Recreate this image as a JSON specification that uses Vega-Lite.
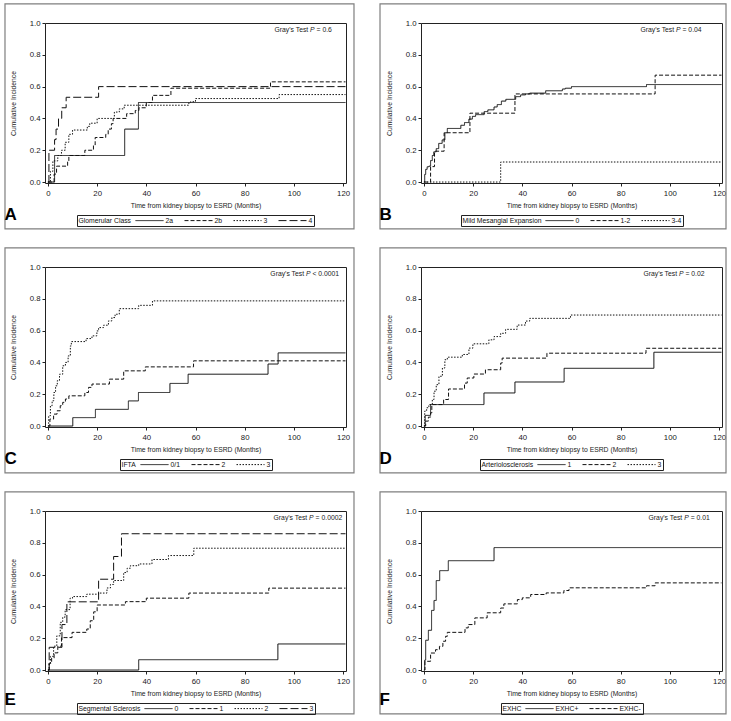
{
"$schema": "https://vega.github.io/schema/vega-lite/v6.json",
"padding": {"left": 3, "top": 2, "right": 2, "bottom": 2},
"datasets": {
"A": [
{"group":"2a","t":0,"v":0},{"group":"2a","t":2.7,"v":0.167},{"group":"2a","t":31.2,"v":0.333},{"group":"2a","t":36.8,"v":0.5},{"group":"2a","t":121,"v":0.5},
{"group":"2b","t":0,"v":0},{"group":"2b","t":2.5,"v":0.05},{"group":"2b","t":3.5,"v":0.1},{"group":"2b","t":8,"v":0.133},{"group":"2b","t":8.5,"v":0.167},{"group":"2b","t":15,"v":0.2},{"group":"2b","t":18.5,"v":0.233},{"group":"2b","t":19.2,"v":0.28},{"group":"2b","t":23.5,"v":0.3},{"group":"2b","t":24.5,"v":0.333},{"group":"2b","t":25.8,"v":0.367},{"group":"2b","t":26.5,"v":0.4},{"group":"2b","t":32,"v":0.43},{"group":"2b","t":35.5,"v":0.45},{"group":"2b","t":37,"v":0.467},{"group":"2b","t":40,"v":0.5},{"group":"2b","t":42.5,"v":0.545},{"group":"2b","t":50,"v":0.59},{"group":"2b","t":90.5,"v":0.63},{"group":"2b","t":121,"v":0.63},
{"group":"3","t":0,"v":0},{"group":"3","t":1,"v":0.067},{"group":"3","t":2,"v":0.133},{"group":"3","t":4,"v":0.167},{"group":"3","t":5.5,"v":0.2},{"group":"3","t":7,"v":0.25},{"group":"3","t":8.5,"v":0.3},{"group":"3","t":10,"v":0.327},{"group":"3","t":16,"v":0.35},{"group":"3","t":17,"v":0.37},{"group":"3","t":20,"v":0.4},{"group":"3","t":27,"v":0.44},{"group":"3","t":29,"v":0.46},{"group":"3","t":31,"v":0.483},{"group":"3","t":57.3,"v":0.5},{"group":"3","t":58,"v":0.505},{"group":"3","t":60,"v":0.525},{"group":"3","t":94,"v":0.55},{"group":"3","t":121,"v":0.55},
{"group":"4","t":0,"v":0},{"group":"4","t":0.4,"v":0.2},{"group":"4","t":2.7,"v":0.267},{"group":"4","t":3.3,"v":0.333},{"group":"4","t":4.3,"v":0.4},{"group":"4","t":5.6,"v":0.467},{"group":"4","t":7.4,"v":0.533},{"group":"4","t":20.6,"v":0.6},{"group":"4","t":121,"v":0.6}
],
"B": [
{"group":"0","t":0,"v":0},{"group":"0","t":0.3,"v":0.048},{"group":"0","t":0.7,"v":0.08},{"group":"0","t":1.3,"v":0.096},{"group":"0","t":2,"v":0.1},{"group":"0","t":2.7,"v":0.135},{"group":"0","t":3.4,"v":0.167},{"group":"0","t":4,"v":0.19},{"group":"0","t":5,"v":0.21},{"group":"0","t":6,"v":0.243},{"group":"0","t":7.4,"v":0.265},{"group":"0","t":8.5,"v":0.31},{"group":"0","t":9.5,"v":0.337},{"group":"0","t":15,"v":0.357},{"group":"0","t":16.5,"v":0.374},{"group":"0","t":18.3,"v":0.396},{"group":"0","t":19.7,"v":0.413},{"group":"0","t":21,"v":0.424},{"group":"0","t":24.5,"v":0.443},{"group":"0","t":26,"v":0.454},{"group":"0","t":28.5,"v":0.472},{"group":"0","t":29.8,"v":0.487},{"group":"0","t":31.5,"v":0.509},{"group":"0","t":33.3,"v":0.52},{"group":"0","t":37.3,"v":0.537},{"group":"0","t":39.3,"v":0.548},{"group":"0","t":41.3,"v":0.554},{"group":"0","t":43,"v":0.559},{"group":"0","t":49.5,"v":0.574},{"group":"0","t":56.3,"v":0.585},{"group":"0","t":57.5,"v":0.59},{"group":"0","t":60,"v":0.6},{"group":"0","t":90.5,"v":0.613},{"group":"0","t":121,"v":0.613},
{"group":"1-2","t":0,"v":0},{"group":"1-2","t":2.7,"v":0.097},{"group":"1-2","t":4.3,"v":0.194},{"group":"1-2","t":8.2,"v":0.31},{"group":"1-2","t":18.7,"v":0.433},{"group":"1-2","t":37,"v":0.554},{"group":"1-2","t":94,"v":0.672},{"group":"1-2","t":121,"v":0.672},
{"group":"3-4","t":0,"v":0},{"group":"3-4","t":31.2,"v":0.126},{"group":"3-4","t":121,"v":0.126}
],
"C": [
{"group":"0/1","t":0,"v":0},{"group":"0/1","t":10.1,"v":0.053},{"group":"0/1","t":19.3,"v":0.105},{"group":"0/1","t":32.7,"v":0.158},{"group":"0/1","t":36.8,"v":0.211},{"group":"0/1","t":49.6,"v":0.268},{"group":"0/1","t":57,"v":0.326},{"group":"0/1","t":89.5,"v":0.39},{"group":"0/1","t":93.6,"v":0.46},{"group":"0/1","t":121,"v":0.46},
{"group":"2","t":0,"v":0},{"group":"2","t":0.8,"v":0.044},{"group":"2","t":2.3,"v":0.075},{"group":"2","t":3.7,"v":0.096},{"group":"2","t":5,"v":0.128},{"group":"2","t":6,"v":0.149},{"group":"2","t":7.1,"v":0.17},{"group":"2","t":8.5,"v":0.19},{"group":"2","t":15,"v":0.211},{"group":"2","t":16.5,"v":0.243},{"group":"2","t":17.9,"v":0.264},{"group":"2","t":25,"v":0.295},{"group":"2","t":30.8,"v":0.347},{"group":"2","t":39.6,"v":0.372},{"group":"2","t":59.2,"v":0.41},{"group":"2","t":121,"v":0.41},
{"group":"3","t":0,"v":0},{"group":"3","t":0.3,"v":0.065},{"group":"3","t":1,"v":0.128},{"group":"3","t":1.7,"v":0.159},{"group":"3","t":2.4,"v":0.211},{"group":"3","t":3.1,"v":0.253},{"group":"3","t":3.8,"v":0.285},{"group":"3","t":4.7,"v":0.326},{"group":"3","t":6,"v":0.379},{"group":"3","t":7.1,"v":0.4},{"group":"3","t":8.2,"v":0.441},{"group":"3","t":9.1,"v":0.504},{"group":"3","t":9.5,"v":0.531},{"group":"3","t":15.5,"v":0.55},{"group":"3","t":17.9,"v":0.567},{"group":"3","t":19.9,"v":0.598},{"group":"3","t":20.6,"v":0.619},{"group":"3","t":22.6,"v":0.634},{"group":"3","t":24.6,"v":0.661},{"group":"3","t":26,"v":0.682},{"group":"3","t":27.3,"v":0.703},{"group":"3","t":29,"v":0.738},{"group":"3","t":36.9,"v":0.759},{"group":"3","t":42.5,"v":0.787},{"group":"3","t":121,"v":0.787}
],
"D": [
{"group":"1","t":0,"v":0},{"group":"1","t":0.5,"v":0.067},{"group":"1","t":2.7,"v":0.135},{"group":"1","t":24.4,"v":0.208},{"group":"1","t":37,"v":0.277},{"group":"1","t":57,"v":0.363},{"group":"1","t":93.5,"v":0.464},{"group":"1","t":121,"v":0.464},
{"group":"2","t":0,"v":0},{"group":"2","t":0.7,"v":0.031},{"group":"2","t":1.8,"v":0.056},{"group":"2","t":2.7,"v":0.083},{"group":"2","t":3.2,"v":0.135},{"group":"2","t":8,"v":0.167},{"group":"2","t":10,"v":0.233},{"group":"2","t":16.5,"v":0.27},{"group":"2","t":17.6,"v":0.302},{"group":"2","t":20.3,"v":0.327},{"group":"2","t":25,"v":0.354},{"group":"2","t":31.2,"v":0.396},{"group":"2","t":31.8,"v":0.427},{"group":"2","t":50,"v":0.458},{"group":"2","t":90.3,"v":0.489},{"group":"2","t":121,"v":0.489},
{"group":"3","t":0,"v":0},{"group":"3","t":0.3,"v":0.094},{"group":"3","t":1.1,"v":0.115},{"group":"3","t":2,"v":0.135},{"group":"3","t":3.4,"v":0.167},{"group":"3","t":4.1,"v":0.219},{"group":"3","t":5,"v":0.26},{"group":"3","t":6.1,"v":0.313},{"group":"3","t":7.5,"v":0.365},{"group":"3","t":8.5,"v":0.417},{"group":"3","t":9.5,"v":0.433},{"group":"3","t":15.6,"v":0.45},{"group":"3","t":18.3,"v":0.49},{"group":"3","t":19.9,"v":0.517},{"group":"3","t":26.4,"v":0.542},{"group":"3","t":28.5,"v":0.5625},{"group":"3","t":31.2,"v":0.583},{"group":"3","t":33.2,"v":0.608},{"group":"3","t":37.9,"v":0.635},{"group":"3","t":41.3,"v":0.66},{"group":"3","t":43,"v":0.677},{"group":"3","t":59.6,"v":0.698},{"group":"3","t":121,"v":0.698}
],
"E": [
{"group":"0","t":0,"v":0},{"group":"0","t":36.9,"v":0.065},{"group":"0","t":93.5,"v":0.164},{"group":"0","t":121,"v":0.164},
{"group":"1","t":0,"v":0},{"group":"1","t":0.5,"v":0.043},{"group":"1","t":1.5,"v":0.075},{"group":"1","t":2.5,"v":0.108},{"group":"1","t":4,"v":0.15},{"group":"1","t":5.5,"v":0.204},{"group":"1","t":9.8,"v":0.237},{"group":"1","t":15.8,"v":0.258},{"group":"1","t":17.2,"v":0.31},{"group":"1","t":18.6,"v":0.366},{"group":"1","t":20,"v":0.409},{"group":"1","t":31.5,"v":0.43},{"group":"1","t":40,"v":0.452},{"group":"1","t":57.3,"v":0.484},{"group":"1","t":89.8,"v":0.515},{"group":"1","t":121,"v":0.515},
{"group":"2","t":0,"v":0},{"group":"2","t":0.5,"v":0.043},{"group":"2","t":1,"v":0.086},{"group":"2","t":2.3,"v":0.15},{"group":"2","t":3.6,"v":0.215},{"group":"2","t":5,"v":0.3},{"group":"2","t":6,"v":0.333},{"group":"2","t":7,"v":0.38},{"group":"2","t":9,"v":0.452},{"group":"2","t":10,"v":0.462},{"group":"2","t":15.8,"v":0.477},{"group":"2","t":20.6,"v":0.484},{"group":"2","t":24,"v":0.516},{"group":"2","t":25.4,"v":0.538},{"group":"2","t":26.7,"v":0.563},{"group":"2","t":30.8,"v":0.613},{"group":"2","t":32.2,"v":0.64},{"group":"2","t":33.5,"v":0.656},{"group":"2","t":36.9,"v":0.667},{"group":"2","t":42.3,"v":0.695},{"group":"2","t":49,"v":0.72},{"group":"2","t":59.3,"v":0.766},{"group":"2","t":121,"v":0.766},
{"group":"3","t":0,"v":0},{"group":"3","t":0.5,"v":0.143},{"group":"3","t":5.7,"v":0.286},{"group":"3","t":7.7,"v":0.429},{"group":"3","t":20.6,"v":0.571},{"group":"3","t":26.7,"v":0.714},{"group":"3","t":29.9,"v":0.857},{"group":"3","t":121,"v":0.857}
],
"F": [
{"group":"EXHC+","t":0,"v":0},{"group":"EXHC+","t":0.3,"v":0.0625},{"group":"EXHC+","t":0.7,"v":0.1875},{"group":"EXHC+","t":1.8,"v":0.25},{"group":"EXHC+","t":3.1,"v":0.375},{"group":"EXHC+","t":4.1,"v":0.4375},{"group":"EXHC+","t":5,"v":0.5625},{"group":"EXHC+","t":6.4,"v":0.625},{"group":"EXHC+","t":9.9,"v":0.6875},{"group":"EXHC+","t":28.5,"v":0.77},{"group":"EXHC+","t":121,"v":0.77},
{"group":"EXHC-","t":0,"v":0},{"group":"EXHC-","t":0.4,"v":0.055},{"group":"EXHC-","t":2.7,"v":0.107},{"group":"EXHC-","t":4.7,"v":0.128},{"group":"EXHC-","t":6.3,"v":0.149},{"group":"EXHC-","t":7.7,"v":0.181},{"group":"EXHC-","t":8.8,"v":0.212},{"group":"EXHC-","t":9.5,"v":0.237},{"group":"EXHC-","t":16.7,"v":0.265},{"group":"EXHC-","t":18,"v":0.286},{"group":"EXHC-","t":20.7,"v":0.328},{"group":"EXHC-","t":25.7,"v":0.36},{"group":"EXHC-","t":31.2,"v":0.39},{"group":"EXHC-","t":32.5,"v":0.416},{"group":"EXHC-","t":38,"v":0.443},{"group":"EXHC-","t":40,"v":0.454},{"group":"EXHC-","t":43.4,"v":0.475},{"group":"EXHC-","t":49.7,"v":0.485},{"group":"EXHC-","t":56.9,"v":0.5},{"group":"EXHC-","t":59,"v":0.517},{"group":"EXHC-","t":90.5,"v":0.53},{"group":"EXHC-","t":94,"v":0.548},{"group":"EXHC-","t":121,"v":0.548}
]
},
"columns": 2,
"spacing": {"row": 84, "column": 75},
"bounds": "flush",
"resolve": {"scale": {"x": "independent", "y": "independent", "strokeDash": "independent"}, "legend": {"strokeDash": "independent"}},
"concat": [
{"width": 301, "height": 160, "title": {"text": "A"},
 "layer": [
  {"data": {"name": "A"}, "mark": {"type": "line", "interpolate": "step-after", "color": "#111", "strokeWidth": 1},
   "encoding": {
    "x": {"field": "t", "type": "quantitative", "scale": {"domain": [-1.2, 121.2], "nice": false, "zero": false}, "axis": {"tickCount": 7, "title": "Time from kidney biopsy to ESRD (Months)"}},
    "y": {"field": "v", "type": "quantitative", "scale": {"domain": [-0.006, 1], "nice": false, "zero": false}, "axis": {"tickCount": 6, "format": ".1f", "title": "Cumulative Incidence"}},
    "strokeDash": {"field": "group", "type": "nominal", "scale": {"domain": ["2a","2b","3","4"], "range": [[1,0],[4,2],[1.5,1.5],[8,3]]}, "legend": {"title": "Glomerular Class"}}}},
  {"data": {"values": [{}]}, "mark": {"type": "rect", "fill": null, "stroke": "#7f7f7f", "strokeWidth": 1.2, "clip": false}, "encoding": {"x": {"datum": -17.47}, "x2": {"datum": 124.45}, "y": {"datum": 1.12}, "y2": {"datum": -0.295}}},
  {"data": {"values": [{}]}, "mark": {"type": "text", "align": "right", "dx": -1.9, "text": "Gray's Test"}, "encoding": {"x": {"datum": 106.6}, "y": {"datum": 0.955}}},
  {"data": {"values": [{}]}, "mark": {"type": "text", "align": "left", "fontStyle": "italic", "text": "P"}, "encoding": {"x": {"datum": 106.6}, "y": {"datum": 0.955}}},
  {"data": {"values": [{}]}, "mark": {"type": "text", "align": "left", "dx": 6.5, "text": "= 0.6"}, "encoding": {"x": {"datum": 106.6}, "y": {"datum": 0.955}}}
 ]},
{"width": 301, "height": 160, "title": {"text": "B"},
 "layer": [
  {"data": {"name": "B"}, "mark": {"type": "line", "interpolate": "step-after", "color": "#111", "strokeWidth": 1},
   "encoding": {
    "x": {"field": "t", "type": "quantitative", "scale": {"domain": [-1.2, 121.2], "nice": false, "zero": false}, "axis": {"tickCount": 7, "title": "Time from kidney biopsy to ESRD (Months)"}},
    "y": {"field": "v", "type": "quantitative", "scale": {"domain": [-0.006, 1], "nice": false, "zero": false}, "axis": {"tickCount": 6, "format": ".1f", "title": "Cumulative Incidence"}},
    "strokeDash": {"field": "group", "type": "nominal", "scale": {"domain": ["0","1-2","3-4"], "range": [[1,0],[4,2],[1.5,1.5]]}, "legend": {"title": "Mild Mesangial Expansion"}}}},
  {"data": {"values": [{}]}, "mark": {"type": "rect", "fill": null, "stroke": "#7f7f7f", "strokeWidth": 1.2, "clip": false}, "encoding": {"x": {"datum": -17.87}, "x2": {"datum": 122.83}, "y": {"datum": 1.12}, "y2": {"datum": -0.295}}},
  {"data": {"values": [{}]}, "mark": {"type": "text", "align": "right", "dx": -1.9, "text": "Gray's Test"}, "encoding": {"x": {"datum": 102.5}, "y": {"datum": 0.955}}},
  {"data": {"values": [{}]}, "mark": {"type": "text", "align": "left", "fontStyle": "italic", "text": "P"}, "encoding": {"x": {"datum": 102.5}, "y": {"datum": 0.955}}},
  {"data": {"values": [{}]}, "mark": {"type": "text", "align": "left", "dx": 6.5, "text": "= 0.04"}, "encoding": {"x": {"datum": 102.5}, "y": {"datum": 0.955}}}
 ]},
{"width": 301, "height": 160, "title": {"text": "C"},
 "layer": [
  {"data": {"name": "C"}, "mark": {"type": "line", "interpolate": "step-after", "color": "#111", "strokeWidth": 1},
   "encoding": {
    "x": {"field": "t", "type": "quantitative", "scale": {"domain": [-1.2, 121.2], "nice": false, "zero": false}, "axis": {"tickCount": 7, "title": "Time from kidney biopsy to ESRD (Months)"}},
    "y": {"field": "v", "type": "quantitative", "scale": {"domain": [-0.006, 1], "nice": false, "zero": false}, "axis": {"tickCount": 6, "format": ".1f", "title": "Cumulative Incidence"}},
    "strokeDash": {"field": "group", "type": "nominal", "scale": {"domain": ["0/1","2","3"], "range": [[1,0],[4,2],[1.5,1.5]]}, "legend": {"title": "IFTA"}}}},
  {"data": {"values": [{}]}, "mark": {"type": "rect", "fill": null, "stroke": "#7f7f7f", "strokeWidth": 1.2, "clip": false}, "encoding": {"x": {"datum": -17.47}, "x2": {"datum": 124.45}, "y": {"datum": 1.12}, "y2": {"datum": -0.295}}},
  {"data": {"values": [{}]}, "mark": {"type": "text", "align": "right", "dx": -1.9, "text": "Gray's Test"}, "encoding": {"x": {"datum": 104.9}, "y": {"datum": 0.955}}},
  {"data": {"values": [{}]}, "mark": {"type": "text", "align": "left", "fontStyle": "italic", "text": "P"}, "encoding": {"x": {"datum": 104.9}, "y": {"datum": 0.955}}},
  {"data": {"values": [{}]}, "mark": {"type": "text", "align": "left", "dx": 6.5, "text": "< 0.0001"}, "encoding": {"x": {"datum": 104.9}, "y": {"datum": 0.955}}}
 ]},
{"width": 301, "height": 160, "title": {"text": "D"},
 "layer": [
  {"data": {"name": "D"}, "mark": {"type": "line", "interpolate": "step-after", "color": "#111", "strokeWidth": 1},
   "encoding": {
    "x": {"field": "t", "type": "quantitative", "scale": {"domain": [-1.2, 121.2], "nice": false, "zero": false}, "axis": {"tickCount": 7, "title": "Time from kidney biopsy to ESRD (Months)"}},
    "y": {"field": "v", "type": "quantitative", "scale": {"domain": [-0.006, 1], "nice": false, "zero": false}, "axis": {"tickCount": 6, "format": ".1f", "title": "Cumulative Incidence"}},
    "strokeDash": {"field": "group", "type": "nominal", "scale": {"domain": ["1","2","3"], "range": [[1,0],[4,2],[1.5,1.5]]}, "legend": {"title": "Arteriolosclerosis"}}}},
  {"data": {"values": [{}]}, "mark": {"type": "rect", "fill": null, "stroke": "#7f7f7f", "strokeWidth": 1.2, "clip": false}, "encoding": {"x": {"datum": -17.87}, "x2": {"datum": 122.83}, "y": {"datum": 1.12}, "y2": {"datum": -0.295}}},
  {"data": {"values": [{}]}, "mark": {"type": "text", "align": "right", "dx": -1.9, "text": "Gray's Test"}, "encoding": {"x": {"datum": 103.7}, "y": {"datum": 0.955}}},
  {"data": {"values": [{}]}, "mark": {"type": "text", "align": "left", "fontStyle": "italic", "text": "P"}, "encoding": {"x": {"datum": 103.7}, "y": {"datum": 0.955}}},
  {"data": {"values": [{}]}, "mark": {"type": "text", "align": "left", "dx": 6.5, "text": "= 0.02"}, "encoding": {"x": {"datum": 103.7}, "y": {"datum": 0.955}}}
 ]},
{"width": 301, "height": 160, "title": {"text": "E"},
 "layer": [
  {"data": {"name": "E"}, "mark": {"type": "line", "interpolate": "step-after", "color": "#111", "strokeWidth": 1},
   "encoding": {
    "x": {"field": "t", "type": "quantitative", "scale": {"domain": [-1.2, 121.2], "nice": false, "zero": false}, "axis": {"tickCount": 7, "title": "Time from kidney biopsy to ESRD (Months)"}},
    "y": {"field": "v", "type": "quantitative", "scale": {"domain": [-0.006, 1], "nice": false, "zero": false}, "axis": {"tickCount": 6, "format": ".1f", "title": "Cumulative Incidence"}},
    "strokeDash": {"field": "group", "type": "nominal", "scale": {"domain": ["0","1","2","3"], "range": [[1,0],[4,2],[1.5,1.5],[8,3]]}, "legend": {"title": "Segmental Sclerosis"}}}},
  {"data": {"values": [{}]}, "mark": {"type": "rect", "fill": null, "stroke": "#7f7f7f", "strokeWidth": 1.2, "clip": false}, "encoding": {"x": {"datum": -17.47}, "x2": {"datum": 124.45}, "y": {"datum": 1.12}, "y2": {"datum": -0.276}}},
  {"data": {"values": [{}]}, "mark": {"type": "text", "align": "right", "dx": -1.9, "text": "Gray's Test"}, "encoding": {"x": {"datum": 106.2}, "y": {"datum": 0.955}}},
  {"data": {"values": [{}]}, "mark": {"type": "text", "align": "left", "fontStyle": "italic", "text": "P"}, "encoding": {"x": {"datum": 106.2}, "y": {"datum": 0.955}}},
  {"data": {"values": [{}]}, "mark": {"type": "text", "align": "left", "dx": 6.5, "text": "= 0.0002"}, "encoding": {"x": {"datum": 106.2}, "y": {"datum": 0.955}}}
 ]},
{"width": 301, "height": 160, "title": {"text": "F"},
 "layer": [
  {"data": {"name": "F"}, "mark": {"type": "line", "interpolate": "step-after", "color": "#111", "strokeWidth": 1},
   "encoding": {
    "x": {"field": "t", "type": "quantitative", "scale": {"domain": [-1.2, 121.2], "nice": false, "zero": false}, "axis": {"tickCount": 7, "title": "Time from kidney biopsy to ESRD (Months)"}},
    "y": {"field": "v", "type": "quantitative", "scale": {"domain": [-0.006, 1], "nice": false, "zero": false}, "axis": {"tickCount": 6, "format": ".1f", "title": "Cumulative Incidence"}},
    "strokeDash": {"field": "group", "type": "nominal", "scale": {"domain": ["EXHC+","EXHC-"], "range": [[1,0],[4,2]]}, "legend": {"title": "EXHC"}}}},
  {"data": {"values": [{}]}, "mark": {"type": "rect", "fill": null, "stroke": "#7f7f7f", "strokeWidth": 1.2, "clip": false}, "encoding": {"x": {"datum": -17.87}, "x2": {"datum": 122.83}, "y": {"datum": 1.12}, "y2": {"datum": -0.276}}},
  {"data": {"values": [{}]}, "mark": {"type": "text", "align": "right", "dx": -1.9, "text": "Gray's Test"}, "encoding": {"x": {"datum": 105.8}, "y": {"datum": 0.955}}},
  {"data": {"values": [{}]}, "mark": {"type": "text", "align": "left", "fontStyle": "italic", "text": "P"}, "encoding": {"x": {"datum": 105.8}, "y": {"datum": 0.955}}},
  {"data": {"values": [{}]}, "mark": {"type": "text", "align": "left", "dx": 6.5, "text": "= 0.01"}, "encoding": {"x": {"datum": 105.8}, "y": {"datum": 0.955}}}
 ]}
],
"config": {
 "font": "Liberation Sans, Arial, sans-serif",
 "background": "white",
 "view": {"stroke": "#222", "strokeWidth": 1},
 "axis": {"grid": false, "domain": false, "tickColor": "#222", "tickSize": 3, "labelFontSize": 7.8, "labelColor": "#222", "titleFontSize": 6.8, "titleFontWeight": "normal", "titleColor": "#222", "labelPadding": 2, "labelFlush": false},
 "axisY": {"titlePadding": 13},
 "axisX": {"titlePadding": 6, "labelPadding": 3},
 "legend": {"orient": "bottom", "direction": "horizontal", "titleOrient": "left", "titleAnchor": "middle", "titleBaseline": "middle", "strokeColor": "#222", "padding": 1.5, "symbolType": "M-4,0H4", "symbolSize": 49, "symbolStrokeWidth": 1, "symbolStrokeColor": "#111", "labelFontSize": 6.8, "titleFontSize": 6.8, "titleFontWeight": "normal", "titleColor": "#111", "labelColor": "#111", "columnPadding": 9, "labelOffset": 12, "titlePadding": 14, "offset": 5, "layout": {"bottom": {"anchor": "middle"}}},
 "title": {"orient": "bottom", "anchor": "start", "fontSize": 17, "fontWeight": "bold", "font": "Liberation Sans, sans-serif", "offset": -23, "frame": "bounds", "color": "#000"},
 "text": {"fontSize": 6.8, "color": "#222", "baseline": "middle"}
}
}
